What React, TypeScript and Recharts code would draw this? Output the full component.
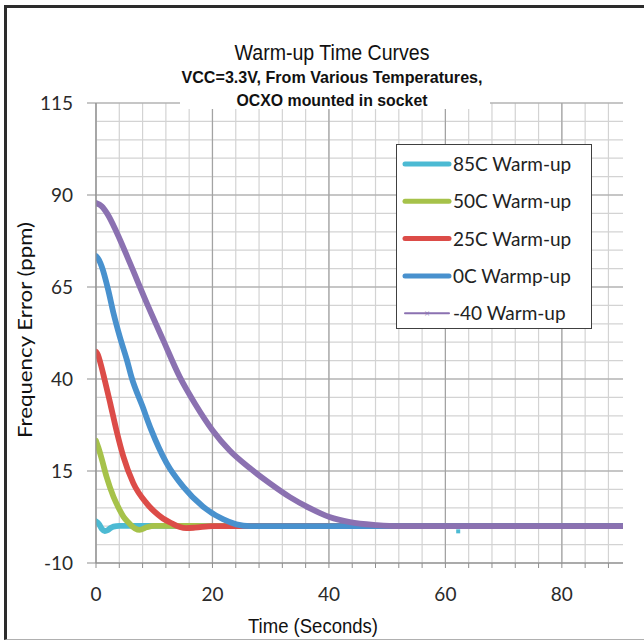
import React from 'react';
import { ComposedChart, Line, Scatter, XAxis, YAxis, CartesianGrid, Legend } from 'recharts';

// time in seconds, frequency error in ppm
const time85 = [0, 0.5, 1, 1.5, 2, 2.5, 3, 4, 6, 10, 20, 30, 40, 50, 60, 70, 80, 90.5];
const err85 = [1.3, 0.6, -0.7, -1.3, -1.1, -0.5, -0.1, 0.1, 0.1, 0.1, 0.0, 0.0, 0.0, 0.0, 0.0, 0.0, 0.0, 0.0];

const time50 = [0, 0.4, 1, 1.8, 3, 4, 4.7, 5.7, 6.7, 7.5, 8.7, 10, 11.5, 14, 20, 40, 60, 90.5];
const err50 = [23.2, 21.4, 18.2, 13.5, 8.0, 4.6, 2.6, 0.8, -0.6, -1.0, -0.3, 0.1, 0.1, 0.1, 0.0, 0.0, 0.0, 0.0];

const time25 = [0, 0.3, 0.7, 1.5, 2.5, 3.5, 4.7, 6.4, 8.7, 10, 11.5, 13, 14.4, 15.5, 17, 20, 40, 60, 90.5];
const err25 = [47.4, 46.7, 44.7, 39.7, 33.0, 26.1, 18.9, 11.7, 6.2, 4.0, 2.1, 0.8, -0.2, -0.5, -0.4, 0.0, 0.0, 0.0, 0.0];

const time0 = [0, 0.5, 1, 2.1, 3, 4.1, 5.3, 6.1, 8, 9.5, 12.1, 15, 18.4, 21.8, 24.1, 26.5, 40, 60, 90.5];
const err0 = [73.4, 72.4, 70.5, 64.2, 57.9, 51.4, 45.2, 40.5, 32.5, 26.1, 17.2, 10.7, 5.3, 1.9, 0.5, 0.0, 0.0, 0.0, 0.0];

const timeM40 = [0, 1, 1.9, 3.6, 5.8, 8.7, 11.5, 14.4, 17, 20, 23, 26.4, 29.8, 33.3, 36.7, 40.1, 43.6, 48.2, 52, 60, 70, 80, 90.5];
const errM40 = [87.8, 86.9, 85.0, 79.7, 71.6, 60.7, 50.7, 40.5, 33.3, 26.1, 20.5, 15.8, 11.7, 7.9, 4.9, 2.5, 1.1, 0.3, 0.0, 0.0, 0.0, 0.0, 0.0];

// lone 85C marker that shows below the settled lines
const marker85Time = [62.2];
const marker85Err = [-1.4];

const yTicks = [-10, 15, 40, 65, 90, 115];
const xLabels = [0, 20, 40, 60, 80];

const zip = (ts: number[], vs: number[]) => ts.map((t, i) => ({ t, v: vs[i] }));

const series = [
  { name: '85C Warm-up', color: '#4cbad3', data: zip(time85, err85) },
  { name: '50C Warm-up', color: '#a6c24a', data: zip(time50, err50) },
  { name: '25C Warm-up', color: '#dc4c48', data: zip(time25, err25) },
  { name: '0C Warmp-up', color: '#4891ce', data: zip(time0, err0) },
  { name: '-40 Warm-up', color: '#8b71b1', data: zip(timeM40, errM40) },
];
const seriesOrder = series.map((s) => s.name);

// grid spacing as in the original sheet
const minorY: number[] = [];
for (let y = -10; y <= 115; y += 5) minorY.push(y);
const minorX: number[] = [];
for (let x = 0; x <= 88; x += 4) minorX.push(x);

const numFont = 'Lato, "Open Sans", sans-serif';
const narrowFont = '"Liberation Sans Narrow", "Liberation Sans", Arial, sans-serif';

const LegendBox = ({ payload }: any) => {
  const items = (payload || [])
    .filter((p: any) => seriesOrder.includes(p.value))
    .sort((a: any, b: any) => seriesOrder.indexOf(a.value) - seriesOrder.indexOf(b.value));
  return (
    <div style={{ width: 194, height: 183, border: '1px solid #404040', background: '#fff' }}>
      <svg width={194} height={183} style={{ display: 'block' }}>
        {items.map((p: any, i: number) => {
          const cy = 19 + i * 37.3;
          const thin = p.value === '-40 Warm-up';
          return (
            <g key={p.value}>
              <line
                x1={8}
                x2={52}
                y1={cy}
                y2={cy}
                stroke={p.color}
                strokeWidth={thin ? 2 : 5}
                strokeLinecap="round"
              />
              {thin && (
                <text x={30} y={cy + 4} textAnchor="middle" fontSize={10} fill={p.color}>
                  ×
                </text>
              )}
              <text x={56} y={cy + 7} fontFamily={numFont} fontSize={19} fill="#222">
                {p.value}
              </text>
            </g>
          );
        })}
      </svg>
    </div>
  );
};

export default function App() {
  return (
    <div style={{ position: 'absolute', left: 0, top: 0, width: 644, height: 642, background: '#fff' }}>
      <div
        style={{
          position: 'absolute',
          left: 4,
          top: 5,
          width: 640,
          height: 635,
          borderLeft: '3px solid #2c2c2c',
          borderTop: '3px solid #2c2c2c',
          borderBottom: '1px solid #b0b0b0',
          boxSizing: 'border-box',
        }}
      />
      <ComposedChart
        width={644}
        height={642}
        margin={{ top: 103, right: 21, bottom: 49, left: 36 }}
        style={{ position: 'absolute', left: 0, top: 0 }}
      >
        <CartesianGrid
          horizontalValues={minorY}
          verticalValues={minorX}
          stroke="#d3d3d3"
          strokeWidth={1.2}
          fill="none"
        />
        <CartesianGrid
          horizontalValues={yTicks}
          verticalValues={xLabels}
          stroke="#a3a3a3"
          strokeWidth={1.2}
          fill="none"
        />
        <XAxis
          type="number"
          dataKey="t"
          domain={[0, 90.5]}
          ticks={minorX}
          interval={0}
          allowDataOverflow
          tickFormatter={(x: number) => (x % 20 === 0 ? String(x) : '')}
          tick={{ fill: '#2a2a2a', fontSize: 19, fontFamily: numFont }}
          tickSize={5}
          tickMargin={20}
          axisLine={{ stroke: '#8f8f8f' }}
          tickLine={{ stroke: '#8f8f8f' }}
          height={30}
        />
        <YAxis
          type="number"
          domain={[-10, 115]}
          ticks={yTicks}
          interval={0}
          allowDataOverflow
          tick={{ fill: '#2a2a2a', fontSize: 19, fontFamily: numFont }}
          tickSize={9}
          tickMargin={14}
          axisLine={{ stroke: '#8f8f8f' }}
          tickLine={{ stroke: '#8f8f8f' }}
          width={60}
        />
        <Legend
          layout="horizontal"
          verticalAlign="middle"
          align="center"
          content={<LegendBox />}
          wrapperStyle={{ position: 'absolute', left: 396, top: 144, width: 196, height: 185 }}
        />
        {series.map((s) => (
          <Line
            key={s.name}
            data={s.data}
            dataKey="v"
            name={s.name}
            type="monotone"
            stroke={s.color}
            strokeWidth={5.8}
            strokeLinecap="round"
            dot={false}
            activeDot={false}
            isAnimationActive={false}
          />
        ))}
        <Scatter
          data={zip(marker85Time, marker85Err)}
          dataKey="v"
          legendType="none"
          fill="#4cbad3"
          shape={(p: any) => <rect x={p.cx - 2} y={p.cy - 2} width={4} height={4} fill="#4cbad3" />}
          isAnimationActive={false}
        />
      </ComposedChart>
      <svg width={644} height={642} style={{ position: 'absolute', left: 0, top: 0, pointerEvents: 'none' }}>
        <rect x={180} y={30} width={310} height={79} fill="#fff" />
        <text x={332} y={60} textAnchor="middle" fontFamily={narrowFont} fontSize={22} fill="#111" textLength={195} lengthAdjust="spacingAndGlyphs">
          Warm-up Time Curves
        </text>
        <text x={332} y={83} textAnchor="middle" fontFamily={narrowFont} fontWeight="bold" fontSize={17} fill="#111" textLength={301} lengthAdjust="spacingAndGlyphs">
          VCC=3.3V, From Various Temperatures,
        </text>
        <text x={332} y={106} textAnchor="middle" fontFamily={narrowFont} fontWeight="bold" fontSize={17} fill="#111" textLength={191} lengthAdjust="spacingAndGlyphs">
          OCXO mounted in socket
        </text>
        <text x={313} y={633} textAnchor="middle" fontFamily={narrowFont} fontSize={20} fill="#111" textLength={130} lengthAdjust="spacingAndGlyphs">
          Time (Seconds)
        </text>
        <text
          x={32}
          y={330}
          textAnchor="middle"
          transform="rotate(-90 32 330)"
          fontFamily={numFont}
          fontSize={20}
          fill="#111"
          textLength={216}
          lengthAdjust="spacingAndGlyphs"
        >
          Frequency Error (ppm)
        </text>
      </svg>
    </div>
  );
}
